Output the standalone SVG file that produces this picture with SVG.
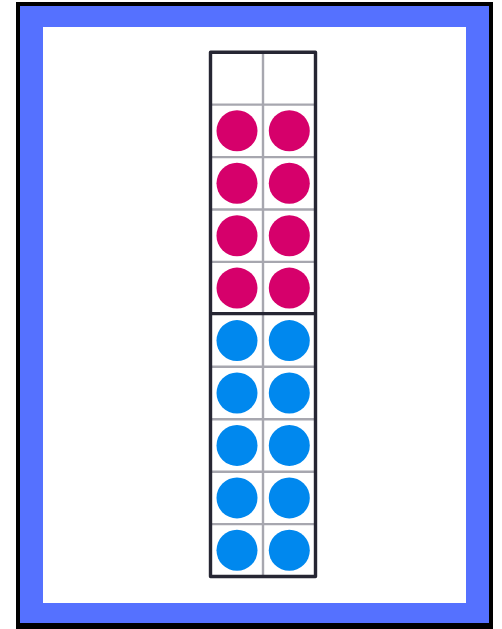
<svg xmlns="http://www.w3.org/2000/svg" width="502" height="629" viewBox="0 0 502 629">
<style>
.g{stroke:#a7a7af;stroke-width:2.4;fill:none}
.o{stroke:#262633;stroke-width:3.4;fill:none;stroke-linejoin:round}
.r{fill:#d6006b}
.b{fill:#0088ee}
</style>
<rect width="502" height="629" fill="#ffffff"/>
<g id="frame">
<rect x="16" y="2" width="477" height="627" fill="#000000"/>
<rect x="20" y="6" width="469" height="617" fill="#5571ff"/>
<rect x="43" y="27" width="423" height="576" fill="#ffffff"/>
</g>
<g id="grid">
<rect x="210.5" y="52.2" width="105" height="524.3" fill="#ffffff"/>
<line class="g" x1="263" y1="52.2" x2="263" y2="576.5"/>
<line class="g" x1="210.5" y1="104.6" x2="315.5" y2="104.6"/>
<line class="g" x1="210.5" y1="157.1" x2="315.5" y2="157.1"/>
<line class="g" x1="210.5" y1="209.5" x2="315.5" y2="209.5"/>
<line class="g" x1="210.5" y1="261.9" x2="315.5" y2="261.9"/>
<line class="g" x1="210.5" y1="366.8" x2="315.5" y2="366.8"/>
<line class="g" x1="210.5" y1="419.2" x2="315.5" y2="419.2"/>
<line class="g" x1="210.5" y1="471.7" x2="315.5" y2="471.7"/>
<line class="g" x1="210.5" y1="524.1" x2="315.5" y2="524.1"/>
<line class="o" x1="210.5" y1="313.6" x2="315.5" y2="313.6"/>
<rect class="o" x="210.5" y="52.2" width="105" height="524.3"/>
</g>
<g id="red-dots">
<circle class="r" cx="237" cy="130.8" r="20.5"/>
<circle class="r" cx="289.3" cy="130.8" r="20.5"/>
<circle class="r" cx="237" cy="183.3" r="20.5"/>
<circle class="r" cx="289.3" cy="183.3" r="20.5"/>
<circle class="r" cx="237" cy="235.7" r="20.5"/>
<circle class="r" cx="289.3" cy="235.7" r="20.5"/>
<circle class="r" cx="237" cy="288.1" r="20.5"/>
<circle class="r" cx="289.3" cy="288.1" r="20.5"/>
</g>
<g id="blue-dots">
<circle class="b" cx="237" cy="340.6" r="20.5"/>
<circle class="b" cx="289.3" cy="340.6" r="20.5"/>
<circle class="b" cx="237" cy="393" r="20.5"/>
<circle class="b" cx="289.3" cy="393" r="20.5"/>
<circle class="b" cx="237" cy="445.4" r="20.5"/>
<circle class="b" cx="289.3" cy="445.4" r="20.5"/>
<circle class="b" cx="237" cy="497.9" r="20.5"/>
<circle class="b" cx="289.3" cy="497.9" r="20.5"/>
<circle class="b" cx="237" cy="550.3" r="20.5"/>
<circle class="b" cx="289.3" cy="550.3" r="20.5"/>
</g>
</svg>
